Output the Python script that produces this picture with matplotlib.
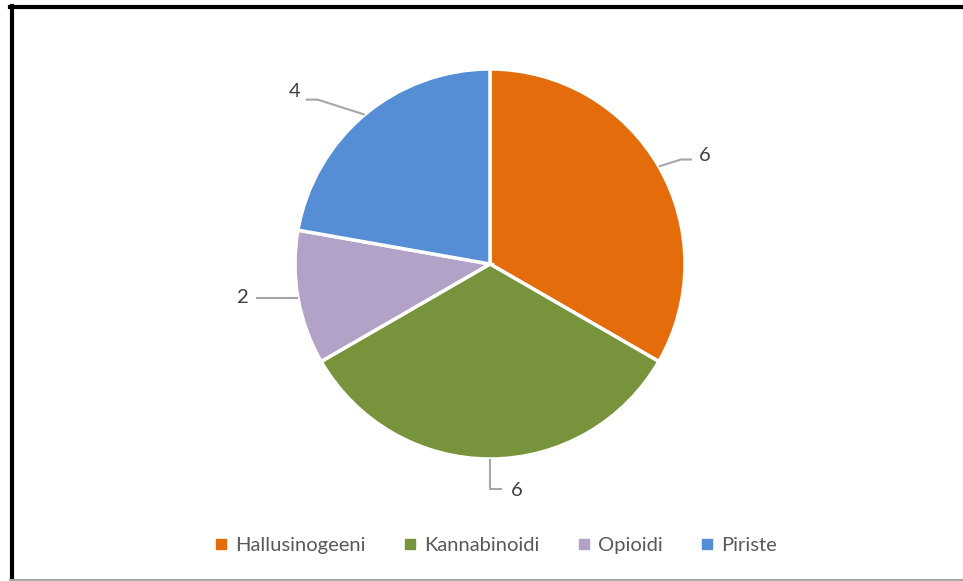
import matplotlib.pyplot as plt
from matplotlib.lines import Line2D
import numpy as np

categories = ["Hallusinogeeni", "Kannabinoidi", "Opioidi", "Piriste"]
values = [6, 6, 2, 4]
colors = ["#E46C0A", "#77933C", "#B3A2C7", "#558ED5"]

W, H = 963, 581
fig = plt.figure(figsize=(W / 100, H / 100), dpi=100)
ax = fig.add_axes([0, 0, 1, 1])

# pie in pixel-like coordinates (y up)
cx, cy, r = 490, H - 264, 195
wedges, _ = ax.pie(values, colors=colors, startangle=90, counterclock=False,
                   center=(cx, cy), radius=r,
                   wedgeprops=dict(edgecolor="white", linewidth=2.5))
ax.set_xlim(0, W)
ax.set_ylim(0, H)
ax.set_aspect("equal")
ax.axis("off")

# leader lines: offsets (px) of bend point, end point, label position from edge point
leaders = [
    [(22, 7), (33, 7), (46, 11)],
    [(0, -30), (12, -30), (27, -31)],
    [(-20, 0), (-42, 0), (-55, 0)],
    [(-47, 15), (-59, 15), (-70, 23)],
]
line_col = "#A6A6A6"
txt_col = "#404040"
for w, v, off in zip(wedges, values, leaders):
    ang = np.deg2rad((w.theta1 + w.theta2) / 2)
    ex, ey = cx + r * np.cos(ang), cy + r * np.sin(ang)
    xs = [ex, ex + off[0][0], ex + off[1][0]]
    ys = [ey, ey + off[0][1], ey + off[1][1]]
    ax.plot(xs, ys, color=line_col, lw=1.5, solid_capstyle="butt")
    ax.text(ex + off[2][0], ey + off[2][1], str(v), fontsize=14.5, color=txt_col,
            ha="center", va="center", family="Lato")

handles = [Line2D([], [], marker="s", ls="", markersize=7, color=c) for c in colors]
leg = fig.legend(handles, categories, loc="center", bbox_to_anchor=(496 / W, 1 - 545 / H),
                 ncol=4, frameon=False, handlelength=0.6, handletextpad=0.4,
                 columnspacing=1.9, prop={"family": "Lato", "size": 14.5})
for t in leg.get_texts():
    t.set_color("#595959")

# frame
fig.add_artist(Line2D([11.5 / W, 11.5 / W], [0, 1 - 6 / H], color="black", lw=3,
                      transform=fig.transFigure))
fig.add_artist(Line2D([10 / W, 1], [1 - 7 / H, 1 - 7 / H], color="black", lw=3,
                      transform=fig.transFigure))
fig.add_artist(Line2D([10 / W, 1], [1.5 / H, 1.5 / H], color="#A6A6A6", lw=1.5,
                      transform=fig.transFigure))

fig.savefig("out.png", dpi=100, facecolor="white")
